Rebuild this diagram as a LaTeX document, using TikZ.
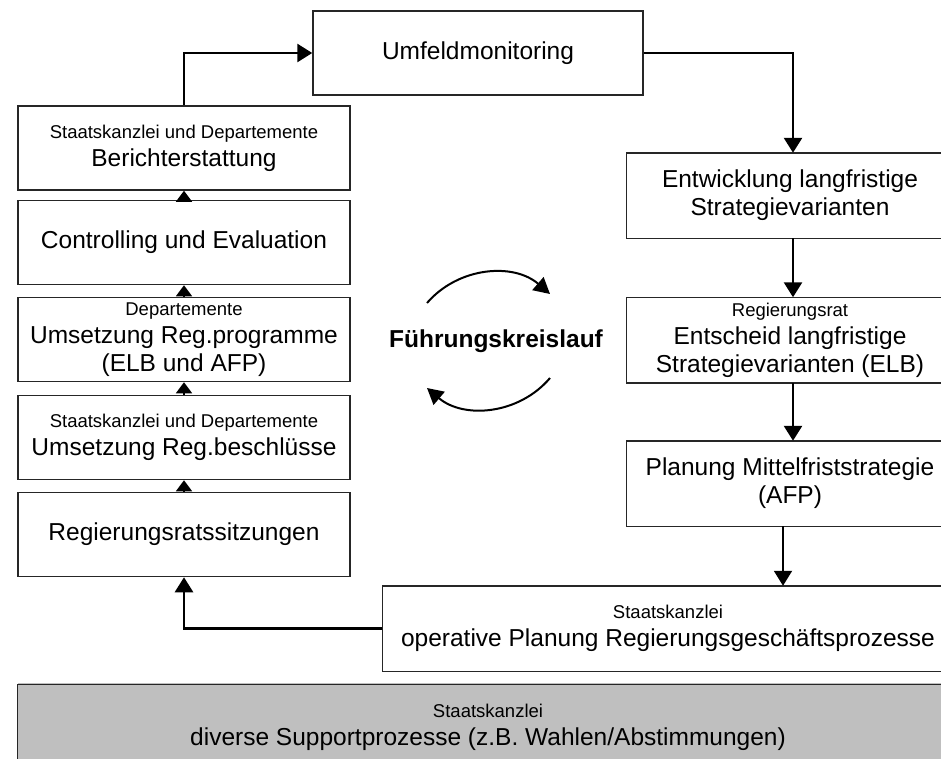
\documentclass[tikz,border=0pt]{standalone}
\usepackage{fontspec}
\setmainfont{Liberation Sans}
\usetikzlibrary{arrows.meta, positioning}

\newcommand{\klein}[1]{{\fontsize{18.5}{28}\selectfont #1}}

\begin{document}
\begin{tikzpicture}[x=1pt, y=-1pt,
    box/.style={draw=black!85, line width=1.5pt, align=center, inner sep=2pt,
        minimum height=84, font=\fontsize{24.5}{28}\selectfont},
    links/.style={box, minimum width=332},
    offen/.style={box, draw=none},
    rahmen/.style={draw=black!85, line width=1.5pt},
    pfeil/.style={line width=2.8pt, -{Triangle[width=18pt,length=15pt]}},
    kurz/.style={line width=1.5pt, -{Triangle[width=16pt,length=11pt]}},
    kreis/.style={line width=2pt, -{Triangle[width=17pt,length=16pt]}}]
    \useasboundingbox (0,0) rectangle (941,758);
    \clip (0,0) rectangle (941,758);

    % oben
    \node[box, minimum width=330] (umfeld) at (478,53) {Umfeldmonitoring};

    % linke Spalte
    \node[links] (bericht) at (184,148) {\klein{Staatskanzlei und Departemente}\\ Berichterstattung};
    \node[links] (control) at (184,242.5) {Controlling und Evaluation};
    \node[links] (umsprog) at (184,339.5) {\klein{Departemente}\\ Umsetzung Reg.programme\\ (ELB und AFP)};
    \node[links] (umsbes) at (184,437.5) {\klein{Staatskanzlei und Departemente}\\ Umsetzung Reg.beschl\"usse};
    \node[links] (sitz) at (184,534.5) {Regierungsratssitzungen};

    % rechte Spalte (rechter Rand ausserhalb des Bildes)
    \node[offen, minimum width=326] (entw) at (790,195.5) {Entwicklung langfristige\\ Strategievarianten};
    \node[offen, minimum width=326] (entsch) at (790,340) {\klein{Regierungsrat}\\ Entscheid langfristige\\ Strategievarianten (ELB)};
    \node[offen, minimum width=326] (plan) at (790,483.5) {Planung Mittelfriststrategie\\ (AFP)};
    \node[offen, minimum width=570] (oper) at (668,628.5) {\klein{Staatskanzlei}\\ operative Planung Regierungsgesch\"aftsprozesse};

    % unten
    \fill[black!25] (18,683) rectangle (980,790);
    \node[offen, minimum width=940] (support) at (488,727) {\klein{Staatskanzlei}\\ diverse Supportprozesse (z.B. Wahlen/Abstimmungen)};

    \foreach \n in {entw, entsch, plan, oper, support}
        \draw[rahmen] (\n.north west) rectangle ([xshift=40pt]\n.south east);

    % Mitte
    \node[font=\fontsize{24.5}{28}\selectfont\bfseries] (kreislauf) at (496,341) {F\"uhrungskreislauf};
    \coordinate (k-1) at (427,303);
    \coordinate (k-2) at (550,294);
    \coordinate (k-3) at (550,378);
    \coordinate (k-4) at (427,388);
    \draw[kreis] (k-1) to[bend left=45] (k-2);
    \draw[kreis] (k-3) to[bend left=45] (k-4);

    % Verbindungen
    \draw[pfeil] (bericht.north) |- (umfeld.west);
    \draw[pfeil] (umfeld.east) -| ([xshift=3pt]entw.north);
    \draw[pfeil] ([xshift=3pt]entw.south) -- ([xshift=3pt]entsch.north);
    \draw[pfeil] ([xshift=3pt]entsch.south) -- ([xshift=3pt]plan.north);
    \draw[pfeil, line width=2pt] ([xshift=-7pt]plan.south) -- ([xshift=-7pt]plan.south |- oper.north);
    \draw[pfeil] (oper.west) -| (sitz.south);
    \foreach \von/\nach in {control/bericht, umsprog/control, umsbes/umsprog, sitz/umsbes}
        \draw[kurz] (\von.north) -- (\nach.south);
\end{tikzpicture}
\end{document}
